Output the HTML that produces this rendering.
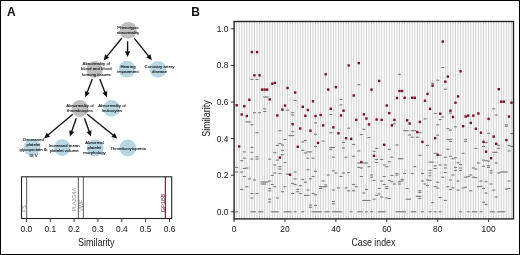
<!DOCTYPE html>
<html><head><meta charset="utf-8"><style>
html,body{margin:0;padding:0;background:#fff;}
body{width:520px;height:255px;position:relative;overflow:hidden;font-family:"Liberation Sans", sans-serif;}
</style></head><body>
<svg width="520" height="255" viewBox="0 0 520 255" style="position:absolute;left:0;top:0;will-change:transform">
<rect x="0.5" y="0.5" width="519" height="254" fill="none" stroke="#000" stroke-width="1"/>
<text x="7" y="15.6" font-family='"Liberation Sans", sans-serif' font-weight="bold" font-size="12" fill="#111">A</text>
<text x="191.2" y="15.6" font-family='"Liberation Sans", sans-serif' font-weight="bold" font-size="12" fill="#111">B</text>
<circle cx="128.2" cy="30.3" r="8.4" fill="#bebebe"/>
<circle cx="94.6" cy="69.5" r="8.4" fill="#bebebe"/>
<circle cx="127.0" cy="69.2" r="8.4" fill="#b8d5e4"/>
<circle cx="158.0" cy="69.4" r="8.4" fill="#b8d5e4"/>
<circle cx="80.0" cy="108.5" r="8.4" fill="#bebebe"/>
<circle cx="111.5" cy="108.4" r="8.4" fill="#b8d5e4"/>
<circle cx="32.0" cy="147.5" r="8.4" fill="#b8d5e4"/>
<circle cx="62.2" cy="147.6" r="8.4" fill="#b8d5e4"/>
<circle cx="95.2" cy="148.0" r="8.4" fill="#b8d5e4"/>
<circle cx="127.8" cy="148.0" r="8.4" fill="#b8d5e4"/>
<line x1="121.7" y1="38.2" x2="106.89" y2="56.37" stroke="#111" stroke-width="1.35"/>
<polygon points="103.60,60.40 105.19,54.34 109.22,57.63" fill="#111"/>
<line x1="127.6" y1="41.3" x2="127.60" y2="51.80" stroke="#111" stroke-width="1.35"/>
<polygon points="127.60,57.00 125.00,51.30 130.20,51.30" fill="#111"/>
<line x1="134.1" y1="38.2" x2="148.63" y2="56.16" stroke="#111" stroke-width="1.35"/>
<polygon points="151.90,60.20 146.29,57.40 150.34,54.13" fill="#111"/>
<line x1="92.3" y1="79.0" x2="87.16" y2="92.44" stroke="#111" stroke-width="1.35"/>
<polygon points="85.30,97.30 84.91,91.05 89.76,92.91" fill="#111"/>
<line x1="99.8" y1="79.0" x2="105.02" y2="92.45" stroke="#111" stroke-width="1.35"/>
<polygon points="106.90,97.30 102.41,92.93 107.26,91.05" fill="#111"/>
<line x1="72.8" y1="114.2" x2="47.98" y2="135.05" stroke="#111" stroke-width="1.35"/>
<polygon points="44.00,138.40 46.69,132.74 50.04,136.72" fill="#111"/>
<line x1="76.3" y1="118.3" x2="71.63" y2="131.50" stroke="#111" stroke-width="1.35"/>
<polygon points="69.90,136.40 69.35,130.16 74.25,131.89" fill="#111"/>
<line x1="84.5" y1="118.3" x2="89.17" y2="131.50" stroke="#111" stroke-width="1.35"/>
<polygon points="90.90,136.40 86.55,131.89 91.45,130.16" fill="#111"/>
<line x1="87.2" y1="114.2" x2="113.36" y2="135.33" stroke="#111" stroke-width="1.35"/>
<polygon points="117.40,138.60 111.33,137.04 114.60,133.00" fill="#111"/>
<text x="128.0" y="29" text-anchor="middle" font-family='"Liberation Sans", sans-serif' font-size="4.3" fill="#1a1a1a" stroke="#1a1a1a" stroke-width="0.12">Phenotypic</text>
<text x="128.0" y="34" text-anchor="middle" font-family='"Liberation Sans", sans-serif' font-size="4.3" fill="#1a1a1a" stroke="#1a1a1a" stroke-width="0.12">abnormality</text>
<text x="96.3" y="65" text-anchor="middle" font-family='"Liberation Sans", sans-serif' font-size="4.3" fill="#1a1a1a" stroke="#1a1a1a" stroke-width="0.12">Abnormality of</text>
<text x="96.3" y="70" text-anchor="middle" font-family='"Liberation Sans", sans-serif' font-size="4.3" fill="#1a1a1a" stroke="#1a1a1a" stroke-width="0.12">blood and blood</text>
<text x="96.3" y="76" text-anchor="middle" font-family='"Liberation Sans", sans-serif' font-size="4.3" fill="#1a1a1a" stroke="#1a1a1a" stroke-width="0.12">forming tissues</text>
<text x="128.0" y="68" text-anchor="middle" font-family='"Liberation Sans", sans-serif' font-size="4.3" fill="#1a1a1a" stroke="#1a1a1a" stroke-width="0.12">Hearing</text>
<text x="128.0" y="73" text-anchor="middle" font-family='"Liberation Sans", sans-serif' font-size="4.3" fill="#1a1a1a" stroke="#1a1a1a" stroke-width="0.12">impairment</text>
<text x="159.5" y="68" text-anchor="middle" font-family='"Liberation Sans", sans-serif' font-size="4.3" fill="#1a1a1a" stroke="#1a1a1a" stroke-width="0.12">Coronary artery</text>
<text x="159.5" y="73" text-anchor="middle" font-family='"Liberation Sans", sans-serif' font-size="4.3" fill="#1a1a1a" stroke="#1a1a1a" stroke-width="0.12">disease</text>
<text x="80.0" y="107" text-anchor="middle" font-family='"Liberation Sans", sans-serif' font-size="4.3" fill="#1a1a1a" stroke="#1a1a1a" stroke-width="0.12">Abnormality of</text>
<text x="80.0" y="112" text-anchor="middle" font-family='"Liberation Sans", sans-serif' font-size="4.3" fill="#1a1a1a" stroke="#1a1a1a" stroke-width="0.12">thrombocytes</text>
<text x="112.0" y="107" text-anchor="middle" font-family='"Liberation Sans", sans-serif' font-size="4.3" fill="#1a1a1a" stroke="#1a1a1a" stroke-width="0.12">Abnormality of</text>
<text x="112.0" y="112" text-anchor="middle" font-family='"Liberation Sans", sans-serif' font-size="4.3" fill="#1a1a1a" stroke="#1a1a1a" stroke-width="0.12">leukocytes</text>
<text x="33.5" y="141" text-anchor="middle" font-family='"Liberation Sans", sans-serif' font-size="4.3" fill="#1a1a1a" stroke="#1a1a1a" stroke-width="0.12">Decreased</text>
<text x="33.5" y="146" text-anchor="middle" font-family='"Liberation Sans", sans-serif' font-size="4.3" fill="#1a1a1a" stroke="#1a1a1a" stroke-width="0.12">platelet</text>
<text x="33.5" y="151" text-anchor="middle" font-family='"Liberation Sans", sans-serif' font-size="4.3" fill="#1a1a1a" stroke="#1a1a1a" stroke-width="0.12">glycoprotein Ib</text>
<text x="33.5" y="157" text-anchor="middle" font-family='"Liberation Sans", sans-serif' font-size="4.3" fill="#1a1a1a" stroke="#1a1a1a" stroke-width="0.12">IX V</text>
<text x="64.2" y="147" text-anchor="middle" font-family='"Liberation Sans", sans-serif' font-size="4.3" fill="#1a1a1a" stroke="#1a1a1a" stroke-width="0.12">Increased mean</text>
<text x="64.2" y="152" text-anchor="middle" font-family='"Liberation Sans", sans-serif' font-size="4.3" fill="#1a1a1a" stroke="#1a1a1a" stroke-width="0.12">platelet volume</text>
<text x="94.5" y="144" text-anchor="middle" font-family='"Liberation Sans", sans-serif' font-size="4.3" fill="#1a1a1a" stroke="#1a1a1a" stroke-width="0.12">Abnormal</text>
<text x="94.5" y="149" text-anchor="middle" font-family='"Liberation Sans", sans-serif' font-size="4.3" fill="#1a1a1a" stroke="#1a1a1a" stroke-width="0.12">platelet</text>
<text x="94.5" y="154" text-anchor="middle" font-family='"Liberation Sans", sans-serif' font-size="4.3" fill="#1a1a1a" stroke="#1a1a1a" stroke-width="0.12">morphology</text>
<text x="128.0" y="150" text-anchor="middle" font-family='"Liberation Sans", sans-serif' font-size="4.3" fill="#1a1a1a" stroke="#1a1a1a" stroke-width="0.12">Thrombocytopenia</text>
<line x1="26.6" y1="176.8" x2="26.6" y2="218.5" stroke="#707070" stroke-width="1.15"/>
<line x1="78.4" y1="176.8" x2="78.4" y2="218.5" stroke="#707070" stroke-width="1.15"/>
<line x1="83.4" y1="176.8" x2="83.4" y2="218.5" stroke="#707070" stroke-width="1.15"/>
<line x1="165.4" y1="176.8" x2="165.4" y2="218.5" stroke="#a8163e" stroke-width="1.3"/>
<rect x="21.5" y="176.8" width="150.2" height="41.7" fill="none" stroke="#222" stroke-width="1.1"/>
<text transform="translate(25.6,212.0) rotate(-90)" font-family='"Liberation Sans", sans-serif' font-size="5.3" fill="#8e8e8e">FS</text>
<text transform="translate(75.7,211.6) rotate(-90)" font-family='"Liberation Sans", sans-serif' font-size="5.3" fill="#8e8e8e">PLA2G4A</text>
<text transform="translate(82.5,211.6) rotate(-90)" font-family='"Liberation Sans", sans-serif' font-size="5.3" fill="#8e8e8e">VWF</text>
<text transform="translate(164.7,212.3) rotate(-90)" font-family='"Liberation Sans", sans-serif' font-size="5.6" fill="#8c1c3a">GP1BB</text>
<line x1="26.40" y1="218.5" x2="26.40" y2="222" stroke="#222" stroke-width="0.9"/>
<text x="26.40" y="232.4" text-anchor="middle" font-family='"Liberation Sans", sans-serif' font-size="8.4" fill="#111">0.0</text>
<line x1="50.25" y1="218.5" x2="50.25" y2="222" stroke="#222" stroke-width="0.9"/>
<text x="50.25" y="232.4" text-anchor="middle" font-family='"Liberation Sans", sans-serif' font-size="8.4" fill="#111">0.1</text>
<line x1="74.10" y1="218.5" x2="74.10" y2="222" stroke="#222" stroke-width="0.9"/>
<text x="74.10" y="232.4" text-anchor="middle" font-family='"Liberation Sans", sans-serif' font-size="8.4" fill="#111">0.2</text>
<line x1="97.95" y1="218.5" x2="97.95" y2="222" stroke="#222" stroke-width="0.9"/>
<text x="97.95" y="232.4" text-anchor="middle" font-family='"Liberation Sans", sans-serif' font-size="8.4" fill="#111">0.3</text>
<line x1="121.80" y1="218.5" x2="121.80" y2="222" stroke="#222" stroke-width="0.9"/>
<text x="121.80" y="232.4" text-anchor="middle" font-family='"Liberation Sans", sans-serif' font-size="8.4" fill="#111">0.4</text>
<line x1="145.65" y1="218.5" x2="145.65" y2="222" stroke="#222" stroke-width="0.9"/>
<text x="145.65" y="232.4" text-anchor="middle" font-family='"Liberation Sans", sans-serif' font-size="8.4" fill="#111">0.5</text>
<line x1="169.50" y1="218.5" x2="169.50" y2="222" stroke="#222" stroke-width="0.9"/>
<text x="169.50" y="232.4" text-anchor="middle" font-family='"Liberation Sans", sans-serif' font-size="8.4" fill="#111">0.6</text>
<text transform="translate(96.2,245.6) scale(0.9,1)" text-anchor="middle" font-family='"Liberation Sans", sans-serif' font-size="10" fill="#222">Similarity</text>
<line x1="236.64" y1="21.5" x2="236.64" y2="218.9" stroke="#c4c4c4" stroke-width="0.8"/>
<line x1="239.19" y1="21.5" x2="239.19" y2="218.9" stroke="#c4c4c4" stroke-width="0.8"/>
<line x1="241.73" y1="21.5" x2="241.73" y2="218.9" stroke="#c4c4c4" stroke-width="0.8"/>
<line x1="244.28" y1="21.5" x2="244.28" y2="218.9" stroke="#c4c4c4" stroke-width="0.8"/>
<line x1="246.82" y1="21.5" x2="246.82" y2="218.9" stroke="#c4c4c4" stroke-width="0.8"/>
<line x1="249.37" y1="21.5" x2="249.37" y2="218.9" stroke="#c4c4c4" stroke-width="0.8"/>
<line x1="251.91" y1="21.5" x2="251.91" y2="218.9" stroke="#c4c4c4" stroke-width="0.8"/>
<line x1="254.46" y1="21.5" x2="254.46" y2="218.9" stroke="#c4c4c4" stroke-width="0.8"/>
<line x1="257.00" y1="21.5" x2="257.00" y2="218.9" stroke="#c4c4c4" stroke-width="0.8"/>
<line x1="259.55" y1="21.5" x2="259.55" y2="218.9" stroke="#c4c4c4" stroke-width="0.8"/>
<line x1="262.09" y1="21.5" x2="262.09" y2="218.9" stroke="#c4c4c4" stroke-width="0.8"/>
<line x1="264.64" y1="21.5" x2="264.64" y2="218.9" stroke="#c4c4c4" stroke-width="0.8"/>
<line x1="267.18" y1="21.5" x2="267.18" y2="218.9" stroke="#c4c4c4" stroke-width="0.8"/>
<line x1="269.73" y1="21.5" x2="269.73" y2="218.9" stroke="#c4c4c4" stroke-width="0.8"/>
<line x1="272.27" y1="21.5" x2="272.27" y2="218.9" stroke="#c4c4c4" stroke-width="0.8"/>
<line x1="274.82" y1="21.5" x2="274.82" y2="218.9" stroke="#c4c4c4" stroke-width="0.8"/>
<line x1="277.36" y1="21.5" x2="277.36" y2="218.9" stroke="#c4c4c4" stroke-width="0.8"/>
<line x1="279.91" y1="21.5" x2="279.91" y2="218.9" stroke="#c4c4c4" stroke-width="0.8"/>
<line x1="282.45" y1="21.5" x2="282.45" y2="218.9" stroke="#c4c4c4" stroke-width="0.8"/>
<line x1="285.00" y1="21.5" x2="285.00" y2="218.9" stroke="#c4c4c4" stroke-width="0.8"/>
<line x1="287.54" y1="21.5" x2="287.54" y2="218.9" stroke="#c4c4c4" stroke-width="0.8"/>
<line x1="290.09" y1="21.5" x2="290.09" y2="218.9" stroke="#c4c4c4" stroke-width="0.8"/>
<line x1="292.63" y1="21.5" x2="292.63" y2="218.9" stroke="#c4c4c4" stroke-width="0.8"/>
<line x1="295.18" y1="21.5" x2="295.18" y2="218.9" stroke="#c4c4c4" stroke-width="0.8"/>
<line x1="297.72" y1="21.5" x2="297.72" y2="218.9" stroke="#c4c4c4" stroke-width="0.8"/>
<line x1="300.26" y1="21.5" x2="300.26" y2="218.9" stroke="#c4c4c4" stroke-width="0.8"/>
<line x1="302.81" y1="21.5" x2="302.81" y2="218.9" stroke="#c4c4c4" stroke-width="0.8"/>
<line x1="305.35" y1="21.5" x2="305.35" y2="218.9" stroke="#c4c4c4" stroke-width="0.8"/>
<line x1="307.90" y1="21.5" x2="307.90" y2="218.9" stroke="#c4c4c4" stroke-width="0.8"/>
<line x1="310.44" y1="21.5" x2="310.44" y2="218.9" stroke="#c4c4c4" stroke-width="0.8"/>
<line x1="312.99" y1="21.5" x2="312.99" y2="218.9" stroke="#c4c4c4" stroke-width="0.8"/>
<line x1="315.53" y1="21.5" x2="315.53" y2="218.9" stroke="#c4c4c4" stroke-width="0.8"/>
<line x1="318.08" y1="21.5" x2="318.08" y2="218.9" stroke="#c4c4c4" stroke-width="0.8"/>
<line x1="320.62" y1="21.5" x2="320.62" y2="218.9" stroke="#c4c4c4" stroke-width="0.8"/>
<line x1="323.17" y1="21.5" x2="323.17" y2="218.9" stroke="#c4c4c4" stroke-width="0.8"/>
<line x1="325.71" y1="21.5" x2="325.71" y2="218.9" stroke="#c4c4c4" stroke-width="0.8"/>
<line x1="328.26" y1="21.5" x2="328.26" y2="218.9" stroke="#c4c4c4" stroke-width="0.8"/>
<line x1="330.80" y1="21.5" x2="330.80" y2="218.9" stroke="#c4c4c4" stroke-width="0.8"/>
<line x1="333.35" y1="21.5" x2="333.35" y2="218.9" stroke="#c4c4c4" stroke-width="0.8"/>
<line x1="335.89" y1="21.5" x2="335.89" y2="218.9" stroke="#c4c4c4" stroke-width="0.8"/>
<line x1="338.44" y1="21.5" x2="338.44" y2="218.9" stroke="#c4c4c4" stroke-width="0.8"/>
<line x1="340.98" y1="21.5" x2="340.98" y2="218.9" stroke="#c4c4c4" stroke-width="0.8"/>
<line x1="343.53" y1="21.5" x2="343.53" y2="218.9" stroke="#c4c4c4" stroke-width="0.8"/>
<line x1="346.07" y1="21.5" x2="346.07" y2="218.9" stroke="#c4c4c4" stroke-width="0.8"/>
<line x1="348.62" y1="21.5" x2="348.62" y2="218.9" stroke="#c4c4c4" stroke-width="0.8"/>
<line x1="351.16" y1="21.5" x2="351.16" y2="218.9" stroke="#c4c4c4" stroke-width="0.8"/>
<line x1="353.71" y1="21.5" x2="353.71" y2="218.9" stroke="#c4c4c4" stroke-width="0.8"/>
<line x1="356.25" y1="21.5" x2="356.25" y2="218.9" stroke="#c4c4c4" stroke-width="0.8"/>
<line x1="358.80" y1="21.5" x2="358.80" y2="218.9" stroke="#c4c4c4" stroke-width="0.8"/>
<line x1="361.34" y1="21.5" x2="361.34" y2="218.9" stroke="#c4c4c4" stroke-width="0.8"/>
<line x1="363.88" y1="21.5" x2="363.88" y2="218.9" stroke="#c4c4c4" stroke-width="0.8"/>
<line x1="366.43" y1="21.5" x2="366.43" y2="218.9" stroke="#c4c4c4" stroke-width="0.8"/>
<line x1="368.97" y1="21.5" x2="368.97" y2="218.9" stroke="#c4c4c4" stroke-width="0.8"/>
<line x1="371.52" y1="21.5" x2="371.52" y2="218.9" stroke="#c4c4c4" stroke-width="0.8"/>
<line x1="374.06" y1="21.5" x2="374.06" y2="218.9" stroke="#c4c4c4" stroke-width="0.8"/>
<line x1="376.61" y1="21.5" x2="376.61" y2="218.9" stroke="#c4c4c4" stroke-width="0.8"/>
<line x1="379.15" y1="21.5" x2="379.15" y2="218.9" stroke="#c4c4c4" stroke-width="0.8"/>
<line x1="381.70" y1="21.5" x2="381.70" y2="218.9" stroke="#c4c4c4" stroke-width="0.8"/>
<line x1="384.24" y1="21.5" x2="384.24" y2="218.9" stroke="#c4c4c4" stroke-width="0.8"/>
<line x1="386.79" y1="21.5" x2="386.79" y2="218.9" stroke="#c4c4c4" stroke-width="0.8"/>
<line x1="389.33" y1="21.5" x2="389.33" y2="218.9" stroke="#c4c4c4" stroke-width="0.8"/>
<line x1="391.88" y1="21.5" x2="391.88" y2="218.9" stroke="#c4c4c4" stroke-width="0.8"/>
<line x1="394.42" y1="21.5" x2="394.42" y2="218.9" stroke="#c4c4c4" stroke-width="0.8"/>
<line x1="396.97" y1="21.5" x2="396.97" y2="218.9" stroke="#c4c4c4" stroke-width="0.8"/>
<line x1="399.51" y1="21.5" x2="399.51" y2="218.9" stroke="#c4c4c4" stroke-width="0.8"/>
<line x1="402.06" y1="21.5" x2="402.06" y2="218.9" stroke="#c4c4c4" stroke-width="0.8"/>
<line x1="404.60" y1="21.5" x2="404.60" y2="218.9" stroke="#c4c4c4" stroke-width="0.8"/>
<line x1="407.15" y1="21.5" x2="407.15" y2="218.9" stroke="#c4c4c4" stroke-width="0.8"/>
<line x1="409.69" y1="21.5" x2="409.69" y2="218.9" stroke="#c4c4c4" stroke-width="0.8"/>
<line x1="412.24" y1="21.5" x2="412.24" y2="218.9" stroke="#c4c4c4" stroke-width="0.8"/>
<line x1="414.78" y1="21.5" x2="414.78" y2="218.9" stroke="#c4c4c4" stroke-width="0.8"/>
<line x1="417.33" y1="21.5" x2="417.33" y2="218.9" stroke="#c4c4c4" stroke-width="0.8"/>
<line x1="419.87" y1="21.5" x2="419.87" y2="218.9" stroke="#c4c4c4" stroke-width="0.8"/>
<line x1="422.42" y1="21.5" x2="422.42" y2="218.9" stroke="#c4c4c4" stroke-width="0.8"/>
<line x1="424.96" y1="21.5" x2="424.96" y2="218.9" stroke="#c4c4c4" stroke-width="0.8"/>
<line x1="427.50" y1="21.5" x2="427.50" y2="218.9" stroke="#c4c4c4" stroke-width="0.8"/>
<line x1="430.05" y1="21.5" x2="430.05" y2="218.9" stroke="#c4c4c4" stroke-width="0.8"/>
<line x1="432.59" y1="21.5" x2="432.59" y2="218.9" stroke="#c4c4c4" stroke-width="0.8"/>
<line x1="435.14" y1="21.5" x2="435.14" y2="218.9" stroke="#c4c4c4" stroke-width="0.8"/>
<line x1="437.68" y1="21.5" x2="437.68" y2="218.9" stroke="#c4c4c4" stroke-width="0.8"/>
<line x1="440.23" y1="21.5" x2="440.23" y2="218.9" stroke="#c4c4c4" stroke-width="0.8"/>
<line x1="442.77" y1="21.5" x2="442.77" y2="218.9" stroke="#c4c4c4" stroke-width="0.8"/>
<line x1="445.32" y1="21.5" x2="445.32" y2="218.9" stroke="#c4c4c4" stroke-width="0.8"/>
<line x1="447.86" y1="21.5" x2="447.86" y2="218.9" stroke="#c4c4c4" stroke-width="0.8"/>
<line x1="450.41" y1="21.5" x2="450.41" y2="218.9" stroke="#c4c4c4" stroke-width="0.8"/>
<line x1="452.95" y1="21.5" x2="452.95" y2="218.9" stroke="#c4c4c4" stroke-width="0.8"/>
<line x1="455.50" y1="21.5" x2="455.50" y2="218.9" stroke="#c4c4c4" stroke-width="0.8"/>
<line x1="458.04" y1="21.5" x2="458.04" y2="218.9" stroke="#c4c4c4" stroke-width="0.8"/>
<line x1="460.59" y1="21.5" x2="460.59" y2="218.9" stroke="#c4c4c4" stroke-width="0.8"/>
<line x1="463.13" y1="21.5" x2="463.13" y2="218.9" stroke="#c4c4c4" stroke-width="0.8"/>
<line x1="465.68" y1="21.5" x2="465.68" y2="218.9" stroke="#c4c4c4" stroke-width="0.8"/>
<line x1="468.22" y1="21.5" x2="468.22" y2="218.9" stroke="#c4c4c4" stroke-width="0.8"/>
<line x1="470.77" y1="21.5" x2="470.77" y2="218.9" stroke="#c4c4c4" stroke-width="0.8"/>
<line x1="473.31" y1="21.5" x2="473.31" y2="218.9" stroke="#c4c4c4" stroke-width="0.8"/>
<line x1="475.86" y1="21.5" x2="475.86" y2="218.9" stroke="#c4c4c4" stroke-width="0.8"/>
<line x1="478.40" y1="21.5" x2="478.40" y2="218.9" stroke="#c4c4c4" stroke-width="0.8"/>
<line x1="480.95" y1="21.5" x2="480.95" y2="218.9" stroke="#c4c4c4" stroke-width="0.8"/>
<line x1="483.49" y1="21.5" x2="483.49" y2="218.9" stroke="#c4c4c4" stroke-width="0.8"/>
<line x1="486.04" y1="21.5" x2="486.04" y2="218.9" stroke="#c4c4c4" stroke-width="0.8"/>
<line x1="488.58" y1="21.5" x2="488.58" y2="218.9" stroke="#c4c4c4" stroke-width="0.8"/>
<line x1="491.12" y1="21.5" x2="491.12" y2="218.9" stroke="#c4c4c4" stroke-width="0.8"/>
<line x1="493.67" y1="21.5" x2="493.67" y2="218.9" stroke="#c4c4c4" stroke-width="0.8"/>
<line x1="496.21" y1="21.5" x2="496.21" y2="218.9" stroke="#c4c4c4" stroke-width="0.8"/>
<line x1="498.76" y1="21.5" x2="498.76" y2="218.9" stroke="#c4c4c4" stroke-width="0.8"/>
<line x1="501.30" y1="21.5" x2="501.30" y2="218.9" stroke="#c4c4c4" stroke-width="0.8"/>
<line x1="503.85" y1="21.5" x2="503.85" y2="218.9" stroke="#c4c4c4" stroke-width="0.8"/>
<line x1="506.39" y1="21.5" x2="506.39" y2="218.9" stroke="#c4c4c4" stroke-width="0.8"/>
<line x1="508.94" y1="21.5" x2="508.94" y2="218.9" stroke="#c4c4c4" stroke-width="0.8"/>
<line x1="511.48" y1="21.5" x2="511.48" y2="218.9" stroke="#c4c4c4" stroke-width="0.8"/>
<rect x="235.14" y="211.25" width="3.0" height="1.1" fill="#787878"/>
<rect x="250.41" y="211.25" width="3.0" height="1.1" fill="#787878"/>
<rect x="252.96" y="211.25" width="3.0" height="1.1" fill="#787878"/>
<rect x="258.05" y="211.25" width="3.0" height="1.1" fill="#787878"/>
<rect x="260.59" y="211.25" width="3.0" height="1.1" fill="#787878"/>
<rect x="270.77" y="211.25" width="3.0" height="1.1" fill="#787878"/>
<rect x="273.32" y="211.25" width="3.0" height="1.1" fill="#787878"/>
<rect x="275.86" y="211.25" width="3.0" height="1.1" fill="#787878"/>
<rect x="283.50" y="211.25" width="3.0" height="1.1" fill="#787878"/>
<rect x="286.04" y="211.25" width="3.0" height="1.1" fill="#787878"/>
<rect x="288.59" y="211.25" width="3.0" height="1.1" fill="#787878"/>
<rect x="293.68" y="211.25" width="3.0" height="1.1" fill="#787878"/>
<rect x="301.31" y="211.25" width="3.0" height="1.1" fill="#787878"/>
<rect x="311.49" y="211.25" width="3.0" height="1.1" fill="#787878"/>
<rect x="314.03" y="211.25" width="3.0" height="1.1" fill="#787878"/>
<rect x="316.58" y="211.25" width="3.0" height="1.1" fill="#787878"/>
<rect x="319.12" y="211.25" width="3.0" height="1.1" fill="#787878"/>
<rect x="324.21" y="211.25" width="3.0" height="1.1" fill="#787878"/>
<rect x="326.76" y="211.25" width="3.0" height="1.1" fill="#787878"/>
<rect x="331.85" y="211.25" width="3.0" height="1.1" fill="#787878"/>
<rect x="334.39" y="211.25" width="3.0" height="1.1" fill="#787878"/>
<rect x="336.94" y="211.25" width="3.0" height="1.1" fill="#787878"/>
<rect x="339.48" y="211.25" width="3.0" height="1.1" fill="#787878"/>
<rect x="349.66" y="211.25" width="3.0" height="1.1" fill="#787878"/>
<rect x="357.30" y="211.25" width="3.0" height="1.1" fill="#787878"/>
<rect x="359.84" y="211.25" width="3.0" height="1.1" fill="#787878"/>
<rect x="364.93" y="211.25" width="3.0" height="1.1" fill="#787878"/>
<rect x="370.02" y="211.25" width="3.0" height="1.1" fill="#787878"/>
<rect x="377.65" y="211.25" width="3.0" height="1.1" fill="#787878"/>
<rect x="380.20" y="211.25" width="3.0" height="1.1" fill="#787878"/>
<rect x="382.74" y="211.25" width="3.0" height="1.1" fill="#787878"/>
<rect x="395.47" y="211.25" width="3.0" height="1.1" fill="#787878"/>
<rect x="398.01" y="211.25" width="3.0" height="1.1" fill="#787878"/>
<rect x="400.56" y="211.25" width="3.0" height="1.1" fill="#787878"/>
<rect x="403.10" y="211.25" width="3.0" height="1.1" fill="#787878"/>
<rect x="410.74" y="211.25" width="3.0" height="1.1" fill="#787878"/>
<rect x="413.28" y="211.25" width="3.0" height="1.1" fill="#787878"/>
<rect x="420.92" y="211.25" width="3.0" height="1.1" fill="#787878"/>
<rect x="428.55" y="211.25" width="3.0" height="1.1" fill="#787878"/>
<rect x="433.64" y="211.25" width="3.0" height="1.1" fill="#787878"/>
<rect x="438.73" y="211.25" width="3.0" height="1.1" fill="#787878"/>
<rect x="459.09" y="211.25" width="3.0" height="1.1" fill="#787878"/>
<rect x="466.72" y="211.25" width="3.0" height="1.1" fill="#787878"/>
<rect x="471.81" y="211.25" width="3.0" height="1.1" fill="#787878"/>
<rect x="474.36" y="211.25" width="3.0" height="1.1" fill="#787878"/>
<rect x="479.45" y="211.25" width="3.0" height="1.1" fill="#787878"/>
<rect x="489.62" y="211.25" width="3.0" height="1.1" fill="#787878"/>
<rect x="492.17" y="211.25" width="3.0" height="1.1" fill="#787878"/>
<rect x="497.26" y="211.25" width="3.0" height="1.1" fill="#787878"/>
<rect x="499.80" y="211.25" width="3.0" height="1.1" fill="#787878"/>
<rect x="502.35" y="211.25" width="3.0" height="1.1" fill="#787878"/>
<rect x="250.41" y="78.85" width="3.0" height="1.1" fill="#787878"/>
<rect x="255.50" y="78.85" width="3.0" height="1.1" fill="#787878"/>
<rect x="263.14" y="96.45" width="3.0" height="1.1" fill="#787878"/>
<rect x="265.68" y="96.45" width="3.0" height="1.1" fill="#787878"/>
<rect x="263.14" y="108.25" width="3.0" height="1.1" fill="#787878"/>
<rect x="252.96" y="112.15" width="3.0" height="1.1" fill="#787878"/>
<rect x="258.05" y="112.15" width="3.0" height="1.1" fill="#787878"/>
<rect x="263.14" y="110.95" width="3.0" height="1.1" fill="#787878"/>
<rect x="291.13" y="112.15" width="3.0" height="1.1" fill="#787878"/>
<rect x="291.13" y="114.45" width="3.0" height="1.1" fill="#787878"/>
<rect x="293.68" y="99.85" width="3.0" height="1.1" fill="#787878"/>
<rect x="286.04" y="109.65" width="3.0" height="1.1" fill="#787878"/>
<rect x="329.30" y="113.95" width="3.0" height="1.1" fill="#787878"/>
<rect x="339.48" y="98.85" width="3.0" height="1.1" fill="#787878"/>
<rect x="339.48" y="104.35" width="3.0" height="1.1" fill="#787878"/>
<rect x="357.30" y="84.15" width="3.0" height="1.1" fill="#787878"/>
<rect x="398.01" y="73.75" width="3.0" height="1.1" fill="#787878"/>
<rect x="431.09" y="82.75" width="3.0" height="1.1" fill="#787878"/>
<rect x="436.18" y="79.65" width="3.0" height="1.1" fill="#787878"/>
<rect x="441.27" y="67.05" width="3.0" height="1.1" fill="#787878"/>
<rect x="443.82" y="88.65" width="3.0" height="1.1" fill="#787878"/>
<rect x="433.64" y="112.95" width="3.0" height="1.1" fill="#787878"/>
<rect x="448.91" y="112.55" width="3.0" height="1.1" fill="#787878"/>
<rect x="441.27" y="116.45" width="3.0" height="1.1" fill="#787878"/>
<rect x="492.17" y="108.25" width="3.0" height="1.1" fill="#787878"/>
<rect x="494.71" y="114.45" width="3.0" height="1.1" fill="#787878"/>
<rect x="245.32" y="121.35" width="3.0" height="1.1" fill="#787878"/>
<rect x="247.87" y="121.35" width="3.0" height="1.1" fill="#787878"/>
<rect x="250.41" y="124.25" width="3.0" height="1.1" fill="#787878"/>
<rect x="255.50" y="132.15" width="3.0" height="1.1" fill="#787878"/>
<rect x="242.78" y="151.35" width="3.0" height="1.1" fill="#787878"/>
<rect x="240.23" y="160.15" width="3.0" height="1.1" fill="#787878"/>
<rect x="242.78" y="157.65" width="3.0" height="1.1" fill="#787878"/>
<rect x="250.41" y="146.85" width="3.0" height="1.1" fill="#787878"/>
<rect x="250.41" y="151.75" width="3.0" height="1.1" fill="#787878"/>
<rect x="250.41" y="158.55" width="3.0" height="1.1" fill="#787878"/>
<rect x="255.50" y="156.25" width="3.0" height="1.1" fill="#787878"/>
<rect x="255.50" y="158.55" width="3.0" height="1.1" fill="#787878"/>
<rect x="268.23" y="158.55" width="3.0" height="1.1" fill="#787878"/>
<rect x="273.32" y="152.15" width="3.0" height="1.1" fill="#787878"/>
<rect x="273.32" y="164.45" width="3.0" height="1.1" fill="#787878"/>
<rect x="275.86" y="144.85" width="3.0" height="1.1" fill="#787878"/>
<rect x="275.86" y="159.55" width="3.0" height="1.1" fill="#787878"/>
<rect x="278.41" y="130.15" width="3.0" height="1.1" fill="#787878"/>
<rect x="278.41" y="142.95" width="3.0" height="1.1" fill="#787878"/>
<rect x="280.95" y="144.45" width="3.0" height="1.1" fill="#787878"/>
<rect x="280.95" y="149.75" width="3.0" height="1.1" fill="#787878"/>
<rect x="280.95" y="154.25" width="3.0" height="1.1" fill="#787878"/>
<rect x="283.50" y="138.95" width="3.0" height="1.1" fill="#787878"/>
<rect x="283.50" y="161.95" width="3.0" height="1.1" fill="#787878"/>
<rect x="288.59" y="135.05" width="3.0" height="1.1" fill="#787878"/>
<rect x="291.13" y="135.05" width="3.0" height="1.1" fill="#787878"/>
<rect x="291.13" y="131.15" width="3.0" height="1.1" fill="#787878"/>
<rect x="301.31" y="141.35" width="3.0" height="1.1" fill="#787878"/>
<rect x="303.85" y="139.95" width="3.0" height="1.1" fill="#787878"/>
<rect x="301.31" y="149.75" width="3.0" height="1.1" fill="#787878"/>
<rect x="303.85" y="152.35" width="3.0" height="1.1" fill="#787878"/>
<rect x="306.40" y="151.35" width="3.0" height="1.1" fill="#787878"/>
<rect x="308.94" y="151.35" width="3.0" height="1.1" fill="#787878"/>
<rect x="306.40" y="157.65" width="3.0" height="1.1" fill="#787878"/>
<rect x="311.49" y="157.65" width="3.0" height="1.1" fill="#787878"/>
<rect x="314.03" y="122.35" width="3.0" height="1.1" fill="#787878"/>
<rect x="314.03" y="133.65" width="3.0" height="1.1" fill="#787878"/>
<rect x="314.03" y="145.85" width="3.0" height="1.1" fill="#787878"/>
<rect x="321.67" y="140.55" width="3.0" height="1.1" fill="#787878"/>
<rect x="329.30" y="132.15" width="3.0" height="1.1" fill="#787878"/>
<rect x="329.30" y="146.95" width="3.0" height="1.1" fill="#787878"/>
<rect x="331.85" y="146.95" width="3.0" height="1.1" fill="#787878"/>
<rect x="329.30" y="148.75" width="3.0" height="1.1" fill="#787878"/>
<rect x="331.85" y="156.65" width="3.0" height="1.1" fill="#787878"/>
<rect x="342.03" y="141.95" width="3.0" height="1.1" fill="#787878"/>
<rect x="342.03" y="147.45" width="3.0" height="1.1" fill="#787878"/>
<rect x="344.57" y="156.65" width="3.0" height="1.1" fill="#787878"/>
<rect x="347.12" y="127.65" width="3.0" height="1.1" fill="#787878"/>
<rect x="352.21" y="143.85" width="3.0" height="1.1" fill="#787878"/>
<rect x="352.21" y="155.65" width="3.0" height="1.1" fill="#787878"/>
<rect x="357.30" y="150.35" width="3.0" height="1.1" fill="#787878"/>
<rect x="357.30" y="162.45" width="3.0" height="1.1" fill="#787878"/>
<rect x="362.38" y="162.45" width="3.0" height="1.1" fill="#787878"/>
<rect x="364.93" y="162.45" width="3.0" height="1.1" fill="#787878"/>
<rect x="359.84" y="134.05" width="3.0" height="1.1" fill="#787878"/>
<rect x="362.38" y="128.75" width="3.0" height="1.1" fill="#787878"/>
<rect x="367.47" y="137.05" width="3.0" height="1.1" fill="#787878"/>
<rect x="372.56" y="150.75" width="3.0" height="1.1" fill="#787878"/>
<rect x="375.11" y="147.85" width="3.0" height="1.1" fill="#787878"/>
<rect x="375.11" y="158.95" width="3.0" height="1.1" fill="#787878"/>
<rect x="375.11" y="161.95" width="3.0" height="1.1" fill="#787878"/>
<rect x="380.20" y="158.95" width="3.0" height="1.1" fill="#787878"/>
<rect x="382.74" y="164.45" width="3.0" height="1.1" fill="#787878"/>
<rect x="387.83" y="148.75" width="3.0" height="1.1" fill="#787878"/>
<rect x="387.83" y="161.15" width="3.0" height="1.1" fill="#787878"/>
<rect x="390.38" y="156.65" width="3.0" height="1.1" fill="#787878"/>
<rect x="392.92" y="123.25" width="3.0" height="1.1" fill="#787878"/>
<rect x="395.47" y="144.45" width="3.0" height="1.1" fill="#787878"/>
<rect x="398.01" y="158.15" width="3.0" height="1.1" fill="#787878"/>
<rect x="400.56" y="158.15" width="3.0" height="1.1" fill="#787878"/>
<rect x="403.10" y="130.15" width="3.0" height="1.1" fill="#787878"/>
<rect x="405.65" y="130.15" width="3.0" height="1.1" fill="#787878"/>
<rect x="408.19" y="134.45" width="3.0" height="1.1" fill="#787878"/>
<rect x="410.74" y="130.15" width="3.0" height="1.1" fill="#787878"/>
<rect x="413.28" y="130.15" width="3.0" height="1.1" fill="#787878"/>
<rect x="410.74" y="136.65" width="3.0" height="1.1" fill="#787878"/>
<rect x="415.83" y="136.65" width="3.0" height="1.1" fill="#787878"/>
<rect x="418.37" y="132.15" width="3.0" height="1.1" fill="#787878"/>
<rect x="418.37" y="154.65" width="3.0" height="1.1" fill="#787878"/>
<rect x="423.46" y="118.35" width="3.0" height="1.1" fill="#787878"/>
<rect x="426.00" y="144.85" width="3.0" height="1.1" fill="#787878"/>
<rect x="428.55" y="161.55" width="3.0" height="1.1" fill="#787878"/>
<rect x="431.09" y="161.55" width="3.0" height="1.1" fill="#787878"/>
<rect x="433.64" y="152.75" width="3.0" height="1.1" fill="#787878"/>
<rect x="436.18" y="124.25" width="3.0" height="1.1" fill="#787878"/>
<rect x="436.18" y="134.65" width="3.0" height="1.1" fill="#787878"/>
<rect x="438.73" y="118.95" width="3.0" height="1.1" fill="#787878"/>
<rect x="438.73" y="154.65" width="3.0" height="1.1" fill="#787878"/>
<rect x="438.73" y="164.45" width="3.0" height="1.1" fill="#787878"/>
<rect x="443.82" y="156.65" width="3.0" height="1.1" fill="#787878"/>
<rect x="443.82" y="164.45" width="3.0" height="1.1" fill="#787878"/>
<rect x="446.36" y="128.15" width="3.0" height="1.1" fill="#787878"/>
<rect x="446.36" y="138.95" width="3.0" height="1.1" fill="#787878"/>
<rect x="448.91" y="138.95" width="3.0" height="1.1" fill="#787878"/>
<rect x="448.91" y="140.95" width="3.0" height="1.1" fill="#787878"/>
<rect x="448.91" y="129.55" width="3.0" height="1.1" fill="#787878"/>
<rect x="446.36" y="148.75" width="3.0" height="1.1" fill="#787878"/>
<rect x="448.91" y="155.65" width="3.0" height="1.1" fill="#787878"/>
<rect x="451.45" y="158.15" width="3.0" height="1.1" fill="#787878"/>
<rect x="454.00" y="126.25" width="3.0" height="1.1" fill="#787878"/>
<rect x="454.00" y="157.25" width="3.0" height="1.1" fill="#787878"/>
<rect x="456.54" y="162.15" width="3.0" height="1.1" fill="#787878"/>
<rect x="459.09" y="164.05" width="3.0" height="1.1" fill="#787878"/>
<rect x="461.63" y="152.75" width="3.0" height="1.1" fill="#787878"/>
<rect x="464.18" y="138.95" width="3.0" height="1.1" fill="#787878"/>
<rect x="464.18" y="140.95" width="3.0" height="1.1" fill="#787878"/>
<rect x="474.36" y="147.85" width="3.0" height="1.1" fill="#787878"/>
<rect x="476.90" y="162.45" width="3.0" height="1.1" fill="#787878"/>
<rect x="481.99" y="159.55" width="3.0" height="1.1" fill="#787878"/>
<rect x="484.54" y="160.15" width="3.0" height="1.1" fill="#787878"/>
<rect x="487.08" y="160.55" width="3.0" height="1.1" fill="#787878"/>
<rect x="481.99" y="145.85" width="3.0" height="1.1" fill="#787878"/>
<rect x="484.54" y="141.95" width="3.0" height="1.1" fill="#787878"/>
<rect x="487.08" y="132.75" width="3.0" height="1.1" fill="#787878"/>
<rect x="492.17" y="151.75" width="3.0" height="1.1" fill="#787878"/>
<rect x="494.71" y="151.75" width="3.0" height="1.1" fill="#787878"/>
<rect x="494.71" y="162.45" width="3.0" height="1.1" fill="#787878"/>
<rect x="497.26" y="144.85" width="3.0" height="1.1" fill="#787878"/>
<rect x="497.26" y="147.85" width="3.0" height="1.1" fill="#787878"/>
<rect x="504.89" y="124.25" width="3.0" height="1.1" fill="#787878"/>
<rect x="504.89" y="125.65" width="3.0" height="1.1" fill="#787878"/>
<rect x="507.44" y="144.85" width="3.0" height="1.1" fill="#787878"/>
<rect x="509.98" y="145.85" width="3.0" height="1.1" fill="#787878"/>
<rect x="507.44" y="150.35" width="3.0" height="1.1" fill="#787878"/>
<rect x="509.98" y="133.05" width="3.0" height="1.1" fill="#787878"/>
<rect x="235.14" y="166.85" width="3.0" height="1.1" fill="#787878"/>
<rect x="235.14" y="171.45" width="3.0" height="1.1" fill="#787878"/>
<rect x="240.23" y="171.45" width="3.0" height="1.1" fill="#787878"/>
<rect x="242.78" y="167.95" width="3.0" height="1.1" fill="#787878"/>
<rect x="245.32" y="167.45" width="3.0" height="1.1" fill="#787878"/>
<rect x="242.78" y="175.95" width="3.0" height="1.1" fill="#787878"/>
<rect x="240.23" y="188.95" width="3.0" height="1.1" fill="#787878"/>
<rect x="245.32" y="186.15" width="3.0" height="1.1" fill="#787878"/>
<rect x="247.87" y="178.25" width="3.0" height="1.1" fill="#787878"/>
<rect x="250.41" y="192.95" width="3.0" height="1.1" fill="#787878"/>
<rect x="250.41" y="197.45" width="3.0" height="1.1" fill="#787878"/>
<rect x="252.96" y="179.45" width="3.0" height="1.1" fill="#787878"/>
<rect x="255.50" y="192.95" width="3.0" height="1.1" fill="#787878"/>
<rect x="260.59" y="181.45" width="3.0" height="1.1" fill="#787878"/>
<rect x="263.14" y="181.45" width="3.0" height="1.1" fill="#787878"/>
<rect x="265.68" y="181.45" width="3.0" height="1.1" fill="#787878"/>
<rect x="260.59" y="183.45" width="3.0" height="1.1" fill="#787878"/>
<rect x="263.14" y="183.45" width="3.0" height="1.1" fill="#787878"/>
<rect x="268.23" y="180.45" width="3.0" height="1.1" fill="#787878"/>
<rect x="268.23" y="187.95" width="3.0" height="1.1" fill="#787878"/>
<rect x="268.23" y="190.25" width="3.0" height="1.1" fill="#787878"/>
<rect x="268.23" y="198.65" width="3.0" height="1.1" fill="#787878"/>
<rect x="268.23" y="201.45" width="3.0" height="1.1" fill="#787878"/>
<rect x="270.77" y="174.85" width="3.0" height="1.1" fill="#787878"/>
<rect x="270.77" y="183.95" width="3.0" height="1.1" fill="#787878"/>
<rect x="273.32" y="172.45" width="3.0" height="1.1" fill="#787878"/>
<rect x="273.32" y="186.15" width="3.0" height="1.1" fill="#787878"/>
<rect x="275.86" y="197.45" width="3.0" height="1.1" fill="#787878"/>
<rect x="278.41" y="166.15" width="3.0" height="1.1" fill="#787878"/>
<rect x="278.41" y="168.45" width="3.0" height="1.1" fill="#787878"/>
<rect x="278.41" y="172.95" width="3.0" height="1.1" fill="#787878"/>
<rect x="280.95" y="191.15" width="3.0" height="1.1" fill="#787878"/>
<rect x="283.50" y="186.15" width="3.0" height="1.1" fill="#787878"/>
<rect x="286.04" y="173.65" width="3.0" height="1.1" fill="#787878"/>
<rect x="291.13" y="182.75" width="3.0" height="1.1" fill="#787878"/>
<rect x="291.13" y="192.95" width="3.0" height="1.1" fill="#787878"/>
<rect x="293.68" y="171.45" width="3.0" height="1.1" fill="#787878"/>
<rect x="293.68" y="178.25" width="3.0" height="1.1" fill="#787878"/>
<rect x="293.68" y="183.95" width="3.0" height="1.1" fill="#787878"/>
<rect x="296.22" y="188.95" width="3.0" height="1.1" fill="#787878"/>
<rect x="296.22" y="191.15" width="3.0" height="1.1" fill="#787878"/>
<rect x="298.76" y="185.05" width="3.0" height="1.1" fill="#787878"/>
<rect x="298.76" y="192.95" width="3.0" height="1.1" fill="#787878"/>
<rect x="301.31" y="178.95" width="3.0" height="1.1" fill="#787878"/>
<rect x="303.85" y="181.65" width="3.0" height="1.1" fill="#787878"/>
<rect x="303.85" y="194.85" width="3.0" height="1.1" fill="#787878"/>
<rect x="306.40" y="169.15" width="3.0" height="1.1" fill="#787878"/>
<rect x="306.40" y="189.45" width="3.0" height="1.1" fill="#787878"/>
<rect x="306.40" y="194.85" width="3.0" height="1.1" fill="#787878"/>
<rect x="308.94" y="178.25" width="3.0" height="1.1" fill="#787878"/>
<rect x="308.94" y="204.45" width="3.0" height="1.1" fill="#787878"/>
<rect x="308.94" y="206.65" width="3.0" height="1.1" fill="#787878"/>
<rect x="311.49" y="175.95" width="3.0" height="1.1" fill="#787878"/>
<rect x="311.49" y="192.95" width="3.0" height="1.1" fill="#787878"/>
<rect x="314.03" y="194.15" width="3.0" height="1.1" fill="#787878"/>
<rect x="314.03" y="170.75" width="3.0" height="1.1" fill="#787878"/>
<rect x="314.03" y="204.85" width="3.0" height="1.1" fill="#787878"/>
<rect x="319.12" y="186.15" width="3.0" height="1.1" fill="#787878"/>
<rect x="319.12" y="187.95" width="3.0" height="1.1" fill="#787878"/>
<rect x="321.67" y="180.45" width="3.0" height="1.1" fill="#787878"/>
<rect x="321.67" y="186.15" width="3.0" height="1.1" fill="#787878"/>
<rect x="324.21" y="186.15" width="3.0" height="1.1" fill="#787878"/>
<rect x="324.21" y="184.45" width="3.0" height="1.1" fill="#787878"/>
<rect x="326.76" y="174.45" width="3.0" height="1.1" fill="#787878"/>
<rect x="331.85" y="170.25" width="3.0" height="1.1" fill="#787878"/>
<rect x="331.85" y="189.45" width="3.0" height="1.1" fill="#787878"/>
<rect x="331.85" y="200.95" width="3.0" height="1.1" fill="#787878"/>
<rect x="331.85" y="203.25" width="3.0" height="1.1" fill="#787878"/>
<rect x="334.39" y="172.45" width="3.0" height="1.1" fill="#787878"/>
<rect x="336.94" y="187.35" width="3.0" height="1.1" fill="#787878"/>
<rect x="339.48" y="175.95" width="3.0" height="1.1" fill="#787878"/>
<rect x="342.03" y="172.45" width="3.0" height="1.1" fill="#787878"/>
<rect x="344.57" y="187.35" width="3.0" height="1.1" fill="#787878"/>
<rect x="347.12" y="172.05" width="3.0" height="1.1" fill="#787878"/>
<rect x="347.12" y="190.25" width="3.0" height="1.1" fill="#787878"/>
<rect x="352.21" y="183.95" width="3.0" height="1.1" fill="#787878"/>
<rect x="352.21" y="190.25" width="3.0" height="1.1" fill="#787878"/>
<rect x="354.75" y="186.15" width="3.0" height="1.1" fill="#787878"/>
<rect x="357.30" y="166.85" width="3.0" height="1.1" fill="#787878"/>
<rect x="359.84" y="167.45" width="3.0" height="1.1" fill="#787878"/>
<rect x="359.84" y="175.95" width="3.0" height="1.1" fill="#787878"/>
<rect x="362.38" y="192.45" width="3.0" height="1.1" fill="#787878"/>
<rect x="362.38" y="199.95" width="3.0" height="1.1" fill="#787878"/>
<rect x="364.93" y="199.95" width="3.0" height="1.1" fill="#787878"/>
<rect x="367.47" y="199.95" width="3.0" height="1.1" fill="#787878"/>
<rect x="364.93" y="188.95" width="3.0" height="1.1" fill="#787878"/>
<rect x="367.47" y="166.15" width="3.0" height="1.1" fill="#787878"/>
<rect x="370.02" y="174.45" width="3.0" height="1.1" fill="#787878"/>
<rect x="370.02" y="176.65" width="3.0" height="1.1" fill="#787878"/>
<rect x="372.56" y="179.85" width="3.0" height="1.1" fill="#787878"/>
<rect x="372.56" y="198.65" width="3.0" height="1.1" fill="#787878"/>
<rect x="375.11" y="194.85" width="3.0" height="1.1" fill="#787878"/>
<rect x="377.65" y="193.45" width="3.0" height="1.1" fill="#787878"/>
<rect x="377.65" y="187.95" width="3.0" height="1.1" fill="#787878"/>
<rect x="380.20" y="180.45" width="3.0" height="1.1" fill="#787878"/>
<rect x="380.20" y="196.45" width="3.0" height="1.1" fill="#787878"/>
<rect x="385.29" y="166.15" width="3.0" height="1.1" fill="#787878"/>
<rect x="382.74" y="175.95" width="3.0" height="1.1" fill="#787878"/>
<rect x="382.74" y="183.95" width="3.0" height="1.1" fill="#787878"/>
<rect x="385.29" y="186.15" width="3.0" height="1.1" fill="#787878"/>
<rect x="385.29" y="187.95" width="3.0" height="1.1" fill="#787878"/>
<rect x="385.29" y="197.45" width="3.0" height="1.1" fill="#787878"/>
<rect x="387.83" y="197.95" width="3.0" height="1.1" fill="#787878"/>
<rect x="387.83" y="179.85" width="3.0" height="1.1" fill="#787878"/>
<rect x="390.38" y="181.15" width="3.0" height="1.1" fill="#787878"/>
<rect x="390.38" y="174.85" width="3.0" height="1.1" fill="#787878"/>
<rect x="392.92" y="183.45" width="3.0" height="1.1" fill="#787878"/>
<rect x="395.47" y="174.45" width="3.0" height="1.1" fill="#787878"/>
<rect x="395.47" y="172.95" width="3.0" height="1.1" fill="#787878"/>
<rect x="398.01" y="181.15" width="3.0" height="1.1" fill="#787878"/>
<rect x="398.01" y="183.45" width="3.0" height="1.1" fill="#787878"/>
<rect x="400.56" y="180.45" width="3.0" height="1.1" fill="#787878"/>
<rect x="400.56" y="178.95" width="3.0" height="1.1" fill="#787878"/>
<rect x="403.10" y="172.95" width="3.0" height="1.1" fill="#787878"/>
<rect x="405.65" y="187.95" width="3.0" height="1.1" fill="#787878"/>
<rect x="405.65" y="198.65" width="3.0" height="1.1" fill="#787878"/>
<rect x="408.19" y="198.65" width="3.0" height="1.1" fill="#787878"/>
<rect x="410.74" y="172.95" width="3.0" height="1.1" fill="#787878"/>
<rect x="413.28" y="166.15" width="3.0" height="1.1" fill="#787878"/>
<rect x="415.83" y="195.75" width="3.0" height="1.1" fill="#787878"/>
<rect x="418.37" y="195.75" width="3.0" height="1.1" fill="#787878"/>
<rect x="418.37" y="190.25" width="3.0" height="1.1" fill="#787878"/>
<rect x="418.37" y="191.85" width="3.0" height="1.1" fill="#787878"/>
<rect x="418.37" y="197.95" width="3.0" height="1.1" fill="#787878"/>
<rect x="420.92" y="172.95" width="3.0" height="1.1" fill="#787878"/>
<rect x="420.92" y="180.45" width="3.0" height="1.1" fill="#787878"/>
<rect x="423.46" y="183.45" width="3.0" height="1.1" fill="#787878"/>
<rect x="426.00" y="179.45" width="3.0" height="1.1" fill="#787878"/>
<rect x="426.00" y="185.05" width="3.0" height="1.1" fill="#787878"/>
<rect x="428.55" y="179.85" width="3.0" height="1.1" fill="#787878"/>
<rect x="428.55" y="169.85" width="3.0" height="1.1" fill="#787878"/>
<rect x="428.55" y="172.45" width="3.0" height="1.1" fill="#787878"/>
<rect x="428.55" y="175.25" width="3.0" height="1.1" fill="#787878"/>
<rect x="431.09" y="202.05" width="3.0" height="1.1" fill="#787878"/>
<rect x="433.64" y="165.25" width="3.0" height="1.1" fill="#787878"/>
<rect x="433.64" y="186.15" width="3.0" height="1.1" fill="#787878"/>
<rect x="436.18" y="187.45" width="3.0" height="1.1" fill="#787878"/>
<rect x="433.64" y="167.95" width="3.0" height="1.1" fill="#787878"/>
<rect x="436.18" y="181.65" width="3.0" height="1.1" fill="#787878"/>
<rect x="438.73" y="197.05" width="3.0" height="1.1" fill="#787878"/>
<rect x="441.27" y="176.65" width="3.0" height="1.1" fill="#787878"/>
<rect x="443.82" y="167.45" width="3.0" height="1.1" fill="#787878"/>
<rect x="443.82" y="172.05" width="3.0" height="1.1" fill="#787878"/>
<rect x="443.82" y="199.85" width="3.0" height="1.1" fill="#787878"/>
<rect x="446.36" y="186.15" width="3.0" height="1.1" fill="#787878"/>
<rect x="448.91" y="179.45" width="3.0" height="1.1" fill="#787878"/>
<rect x="448.91" y="188.95" width="3.0" height="1.1" fill="#787878"/>
<rect x="451.45" y="187.35" width="3.0" height="1.1" fill="#787878"/>
<rect x="451.45" y="174.45" width="3.0" height="1.1" fill="#787878"/>
<rect x="454.00" y="166.85" width="3.0" height="1.1" fill="#787878"/>
<rect x="454.00" y="169.85" width="3.0" height="1.1" fill="#787878"/>
<rect x="456.54" y="180.45" width="3.0" height="1.1" fill="#787878"/>
<rect x="456.54" y="189.55" width="3.0" height="1.1" fill="#787878"/>
<rect x="459.09" y="167.45" width="3.0" height="1.1" fill="#787878"/>
<rect x="459.09" y="169.85" width="3.0" height="1.1" fill="#787878"/>
<rect x="461.63" y="187.35" width="3.0" height="1.1" fill="#787878"/>
<rect x="464.18" y="186.65" width="3.0" height="1.1" fill="#787878"/>
<rect x="464.18" y="176.65" width="3.0" height="1.1" fill="#787878"/>
<rect x="466.72" y="175.95" width="3.0" height="1.1" fill="#787878"/>
<rect x="469.27" y="190.25" width="3.0" height="1.1" fill="#787878"/>
<rect x="469.27" y="174.45" width="3.0" height="1.1" fill="#787878"/>
<rect x="471.81" y="167.45" width="3.0" height="1.1" fill="#787878"/>
<rect x="474.36" y="168.45" width="3.0" height="1.1" fill="#787878"/>
<rect x="471.81" y="176.65" width="3.0" height="1.1" fill="#787878"/>
<rect x="474.36" y="177.05" width="3.0" height="1.1" fill="#787878"/>
<rect x="476.90" y="186.15" width="3.0" height="1.1" fill="#787878"/>
<rect x="479.45" y="185.75" width="3.0" height="1.1" fill="#787878"/>
<rect x="479.45" y="180.45" width="3.0" height="1.1" fill="#787878"/>
<rect x="481.99" y="187.95" width="3.0" height="1.1" fill="#787878"/>
<rect x="481.99" y="165.75" width="3.0" height="1.1" fill="#787878"/>
<rect x="481.99" y="201.65" width="3.0" height="1.1" fill="#787878"/>
<rect x="484.54" y="203.95" width="3.0" height="1.1" fill="#787878"/>
<rect x="484.54" y="192.45" width="3.0" height="1.1" fill="#787878"/>
<rect x="484.54" y="181.15" width="3.0" height="1.1" fill="#787878"/>
<rect x="487.08" y="165.25" width="3.0" height="1.1" fill="#787878"/>
<rect x="487.08" y="166.85" width="3.0" height="1.1" fill="#787878"/>
<rect x="489.62" y="170.25" width="3.0" height="1.1" fill="#787878"/>
<rect x="489.62" y="172.45" width="3.0" height="1.1" fill="#787878"/>
<rect x="489.62" y="183.45" width="3.0" height="1.1" fill="#787878"/>
<rect x="492.17" y="189.55" width="3.0" height="1.1" fill="#787878"/>
<rect x="494.71" y="196.45" width="3.0" height="1.1" fill="#787878"/>
<rect x="497.26" y="172.45" width="3.0" height="1.1" fill="#787878"/>
<rect x="499.80" y="171.45" width="3.0" height="1.1" fill="#787878"/>
<rect x="502.35" y="171.45" width="3.0" height="1.1" fill="#787878"/>
<rect x="504.89" y="171.45" width="3.0" height="1.1" fill="#787878"/>
<rect x="504.89" y="188.45" width="3.0" height="1.1" fill="#787878"/>
<rect x="507.44" y="187.95" width="3.0" height="1.1" fill="#787878"/>
<rect x="507.44" y="180.45" width="3.0" height="1.1" fill="#787878"/>
<rect x="250.71" y="50.90" width="2.4" height="2.4" fill="#761028"/>
<rect x="255.80" y="50.90" width="2.4" height="2.4" fill="#761028"/>
<rect x="347.42" y="64.30" width="2.4" height="2.4" fill="#761028"/>
<rect x="357.60" y="61.90" width="2.4" height="2.4" fill="#761028"/>
<rect x="441.57" y="40.40" width="2.4" height="2.4" fill="#761028"/>
<rect x="253.26" y="74.10" width="2.4" height="2.4" fill="#761028"/>
<rect x="258.35" y="74.10" width="2.4" height="2.4" fill="#761028"/>
<rect x="271.07" y="82.50" width="2.4" height="2.4" fill="#761028"/>
<rect x="273.62" y="81.70" width="2.4" height="2.4" fill="#761028"/>
<rect x="260.89" y="88.40" width="2.4" height="2.4" fill="#761028"/>
<rect x="263.44" y="88.40" width="2.4" height="2.4" fill="#761028"/>
<rect x="265.98" y="88.40" width="2.4" height="2.4" fill="#761028"/>
<rect x="286.34" y="86.80" width="2.4" height="2.4" fill="#761028"/>
<rect x="293.98" y="91.30" width="2.4" height="2.4" fill="#761028"/>
<rect x="324.51" y="73.10" width="2.4" height="2.4" fill="#761028"/>
<rect x="327.06" y="88.40" width="2.4" height="2.4" fill="#761028"/>
<rect x="248.17" y="98.60" width="2.4" height="2.4" fill="#761028"/>
<rect x="268.53" y="98.20" width="2.4" height="2.4" fill="#761028"/>
<rect x="235.44" y="104.10" width="2.4" height="2.4" fill="#761028"/>
<rect x="243.08" y="105.00" width="2.4" height="2.4" fill="#761028"/>
<rect x="283.80" y="104.40" width="2.4" height="2.4" fill="#761028"/>
<rect x="281.25" y="108.40" width="2.4" height="2.4" fill="#761028"/>
<rect x="301.61" y="105.60" width="2.4" height="2.4" fill="#761028"/>
<rect x="306.70" y="108.80" width="2.4" height="2.4" fill="#761028"/>
<rect x="311.79" y="100.10" width="2.4" height="2.4" fill="#761028"/>
<rect x="240.53" y="113.30" width="2.4" height="2.4" fill="#761028"/>
<rect x="245.62" y="114.80" width="2.4" height="2.4" fill="#761028"/>
<rect x="276.16" y="114.30" width="2.4" height="2.4" fill="#761028"/>
<rect x="304.15" y="114.60" width="2.4" height="2.4" fill="#761028"/>
<rect x="314.33" y="114.80" width="2.4" height="2.4" fill="#761028"/>
<rect x="319.42" y="113.80" width="2.4" height="2.4" fill="#761028"/>
<rect x="329.60" y="107.60" width="2.4" height="2.4" fill="#761028"/>
<rect x="334.69" y="86.00" width="2.4" height="2.4" fill="#761028"/>
<rect x="339.78" y="114.30" width="2.4" height="2.4" fill="#761028"/>
<rect x="342.33" y="109.50" width="2.4" height="2.4" fill="#761028"/>
<rect x="352.51" y="94.30" width="2.4" height="2.4" fill="#761028"/>
<rect x="362.68" y="113.10" width="2.4" height="2.4" fill="#761028"/>
<rect x="370.32" y="88.40" width="2.4" height="2.4" fill="#761028"/>
<rect x="377.95" y="79.70" width="2.4" height="2.4" fill="#761028"/>
<rect x="385.59" y="104.40" width="2.4" height="2.4" fill="#761028"/>
<rect x="388.13" y="111.90" width="2.4" height="2.4" fill="#761028"/>
<rect x="395.77" y="96.80" width="2.4" height="2.4" fill="#761028"/>
<rect x="398.31" y="89.80" width="2.4" height="2.4" fill="#761028"/>
<rect x="400.86" y="89.80" width="2.4" height="2.4" fill="#761028"/>
<rect x="403.40" y="96.60" width="2.4" height="2.4" fill="#761028"/>
<rect x="411.04" y="96.60" width="2.4" height="2.4" fill="#761028"/>
<rect x="413.58" y="96.60" width="2.4" height="2.4" fill="#761028"/>
<rect x="423.76" y="99.50" width="2.4" height="2.4" fill="#761028"/>
<rect x="426.30" y="92.70" width="2.4" height="2.4" fill="#761028"/>
<rect x="428.85" y="107.60" width="2.4" height="2.4" fill="#761028"/>
<rect x="431.39" y="84.40" width="2.4" height="2.4" fill="#761028"/>
<rect x="439.03" y="112.50" width="2.4" height="2.4" fill="#761028"/>
<rect x="444.12" y="80.50" width="2.4" height="2.4" fill="#761028"/>
<rect x="446.66" y="75.40" width="2.4" height="2.4" fill="#761028"/>
<rect x="449.21" y="109.50" width="2.4" height="2.4" fill="#761028"/>
<rect x="451.75" y="115.80" width="2.4" height="2.4" fill="#761028"/>
<rect x="454.30" y="101.50" width="2.4" height="2.4" fill="#761028"/>
<rect x="456.84" y="95.20" width="2.4" height="2.4" fill="#761028"/>
<rect x="459.39" y="70.10" width="2.4" height="2.4" fill="#761028"/>
<rect x="464.48" y="115.40" width="2.4" height="2.4" fill="#761028"/>
<rect x="467.02" y="114.40" width="2.4" height="2.4" fill="#761028"/>
<rect x="472.11" y="114.40" width="2.4" height="2.4" fill="#761028"/>
<rect x="477.20" y="112.30" width="2.4" height="2.4" fill="#761028"/>
<rect x="497.56" y="88.00" width="2.4" height="2.4" fill="#761028"/>
<rect x="500.10" y="100.50" width="2.4" height="2.4" fill="#761028"/>
<rect x="502.65" y="100.50" width="2.4" height="2.4" fill="#761028"/>
<rect x="510.28" y="101.50" width="2.4" height="2.4" fill="#761028"/>
<rect x="507.74" y="115.40" width="2.4" height="2.4" fill="#761028"/>
<rect x="237.99" y="145.20" width="2.4" height="2.4" fill="#761028"/>
<rect x="278.71" y="156.40" width="2.4" height="2.4" fill="#761028"/>
<rect x="291.43" y="123.00" width="2.4" height="2.4" fill="#761028"/>
<rect x="299.06" y="127.30" width="2.4" height="2.4" fill="#761028"/>
<rect x="296.52" y="145.60" width="2.4" height="2.4" fill="#761028"/>
<rect x="309.24" y="129.50" width="2.4" height="2.4" fill="#761028"/>
<rect x="321.97" y="124.20" width="2.4" height="2.4" fill="#761028"/>
<rect x="316.88" y="141.70" width="2.4" height="2.4" fill="#761028"/>
<rect x="332.15" y="126.20" width="2.4" height="2.4" fill="#761028"/>
<rect x="337.24" y="132.10" width="2.4" height="2.4" fill="#761028"/>
<rect x="344.87" y="137.00" width="2.4" height="2.4" fill="#761028"/>
<rect x="349.96" y="137.70" width="2.4" height="2.4" fill="#761028"/>
<rect x="355.05" y="118.70" width="2.4" height="2.4" fill="#761028"/>
<rect x="365.23" y="117.30" width="2.4" height="2.4" fill="#761028"/>
<rect x="367.77" y="123.20" width="2.4" height="2.4" fill="#761028"/>
<rect x="375.41" y="118.30" width="2.4" height="2.4" fill="#761028"/>
<rect x="380.50" y="118.70" width="2.4" height="2.4" fill="#761028"/>
<rect x="390.68" y="124.20" width="2.4" height="2.4" fill="#761028"/>
<rect x="393.22" y="118.70" width="2.4" height="2.4" fill="#761028"/>
<rect x="383.04" y="143.60" width="2.4" height="2.4" fill="#761028"/>
<rect x="372.86" y="154.60" width="2.4" height="2.4" fill="#761028"/>
<rect x="360.14" y="160.90" width="2.4" height="2.4" fill="#761028"/>
<rect x="405.95" y="119.10" width="2.4" height="2.4" fill="#761028"/>
<rect x="408.49" y="122.30" width="2.4" height="2.4" fill="#761028"/>
<rect x="418.67" y="120.70" width="2.4" height="2.4" fill="#761028"/>
<rect x="416.13" y="130.90" width="2.4" height="2.4" fill="#761028"/>
<rect x="421.22" y="140.70" width="2.4" height="2.4" fill="#761028"/>
<rect x="433.94" y="137.00" width="2.4" height="2.4" fill="#761028"/>
<rect x="436.48" y="153.60" width="2.4" height="2.4" fill="#761028"/>
<rect x="461.93" y="125.00" width="2.4" height="2.4" fill="#761028"/>
<rect x="469.57" y="121.70" width="2.4" height="2.4" fill="#761028"/>
<rect x="474.66" y="127.50" width="2.4" height="2.4" fill="#761028"/>
<rect x="479.75" y="131.50" width="2.4" height="2.4" fill="#761028"/>
<rect x="482.29" y="140.70" width="2.4" height="2.4" fill="#761028"/>
<rect x="484.84" y="150.50" width="2.4" height="2.4" fill="#761028"/>
<rect x="487.38" y="117.70" width="2.4" height="2.4" fill="#761028"/>
<rect x="489.92" y="157.00" width="2.4" height="2.4" fill="#761028"/>
<rect x="492.47" y="135.40" width="2.4" height="2.4" fill="#761028"/>
<rect x="495.01" y="142.60" width="2.4" height="2.4" fill="#761028"/>
<rect x="505.19" y="138.90" width="2.4" height="2.4" fill="#761028"/>
<rect x="288.89" y="173.50" width="2.4" height="2.4" fill="#761028"/>
<rect x="234.1" y="21.5" width="279.4" height="197.4" fill="none" stroke="#222" stroke-width="1.4"/>
<line x1="230.8" y1="211.80" x2="234.1" y2="211.80" stroke="#222" stroke-width="0.9"/>
<text x="228.3" y="214.80" text-anchor="end" font-family='"Liberation Sans", sans-serif' font-size="8.4" fill="#111">0.0</text>
<line x1="230.8" y1="175.20" x2="234.1" y2="175.20" stroke="#222" stroke-width="0.9"/>
<text x="228.3" y="178.20" text-anchor="end" font-family='"Liberation Sans", sans-serif' font-size="8.4" fill="#111">0.2</text>
<line x1="230.8" y1="138.60" x2="234.1" y2="138.60" stroke="#222" stroke-width="0.9"/>
<text x="228.3" y="141.60" text-anchor="end" font-family='"Liberation Sans", sans-serif' font-size="8.4" fill="#111">0.4</text>
<line x1="230.8" y1="102.00" x2="234.1" y2="102.00" stroke="#222" stroke-width="0.9"/>
<text x="228.3" y="105.00" text-anchor="end" font-family='"Liberation Sans", sans-serif' font-size="8.4" fill="#111">0.6</text>
<line x1="230.8" y1="65.40" x2="234.1" y2="65.40" stroke="#222" stroke-width="0.9"/>
<text x="228.3" y="68.40" text-anchor="end" font-family='"Liberation Sans", sans-serif' font-size="8.4" fill="#111">0.8</text>
<line x1="230.8" y1="28.80" x2="234.1" y2="28.80" stroke="#222" stroke-width="0.9"/>
<text x="228.3" y="31.80" text-anchor="end" font-family='"Liberation Sans", sans-serif' font-size="8.4" fill="#111">1.0</text>
<line x1="234.10" y1="218.9" x2="234.10" y2="222" stroke="#222" stroke-width="0.9"/>
<text x="234.10" y="232.4" text-anchor="middle" font-family='"Liberation Sans", sans-serif' font-size="8.4" fill="#111">0</text>
<line x1="285.00" y1="218.9" x2="285.00" y2="222" stroke="#222" stroke-width="0.9"/>
<text x="285.00" y="232.4" text-anchor="middle" font-family='"Liberation Sans", sans-serif' font-size="8.4" fill="#111">20</text>
<line x1="335.89" y1="218.9" x2="335.89" y2="222" stroke="#222" stroke-width="0.9"/>
<text x="335.89" y="232.4" text-anchor="middle" font-family='"Liberation Sans", sans-serif' font-size="8.4" fill="#111">40</text>
<line x1="386.79" y1="218.9" x2="386.79" y2="222" stroke="#222" stroke-width="0.9"/>
<text x="386.79" y="232.4" text-anchor="middle" font-family='"Liberation Sans", sans-serif' font-size="8.4" fill="#111">60</text>
<line x1="437.68" y1="218.9" x2="437.68" y2="222" stroke="#222" stroke-width="0.9"/>
<text x="437.68" y="232.4" text-anchor="middle" font-family='"Liberation Sans", sans-serif' font-size="8.4" fill="#111">80</text>
<line x1="488.58" y1="218.9" x2="488.58" y2="222" stroke="#222" stroke-width="0.9"/>
<text x="488.58" y="232.4" text-anchor="middle" font-family='"Liberation Sans", sans-serif' font-size="8.4" fill="#111">100</text>
<text transform="translate(373.4,245.6) scale(0.88,1)" text-anchor="middle" font-family='"Liberation Sans", sans-serif' font-size="10" fill="#222">Case index</text>
<text transform="translate(210.3,118.4) rotate(-90) scale(0.9,1)" text-anchor="middle" font-family='"Liberation Sans", sans-serif' font-size="10" fill="#222">Similarity</text>
</svg>
</body></html>
